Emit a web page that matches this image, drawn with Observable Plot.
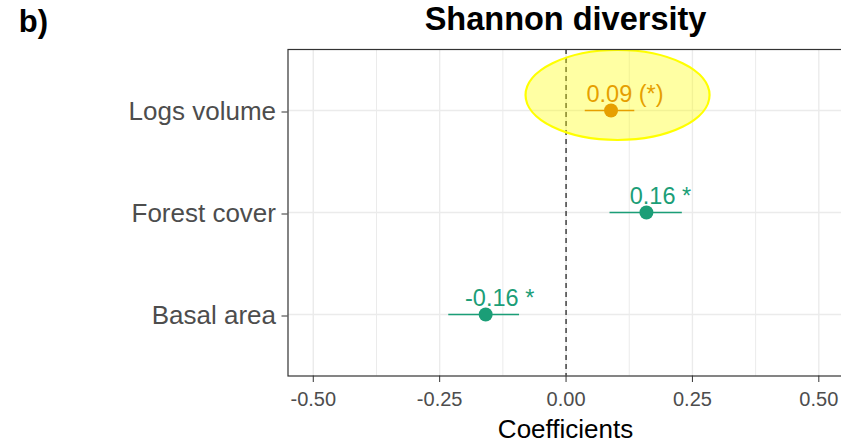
<!DOCTYPE html>
<html><head><meta charset="utf-8">
<script src="https://cdn.jsdelivr.net/npm/d3@7"></script>
<script src="https://cdn.jsdelivr.net/npm/@observablehq/plot@0.6"></script>
<style>html,body{margin:0;padding:0;background:#fff;overflow:hidden}</style>
</head><body><div id="chart"></div>
<script>
const terms = ["Logs volume", "Forest cover", "Basal area"];
const estimates = [0.089, 0.159, -0.159];
const lowers = [0.038, 0.087, -0.232];
const uppers = [0.136, 0.230, -0.092];
const labels = ["0.09 (*)", "0.16 *", "-0.16 *"];
const significance = ["marginal", "significant", "significant"];
const xTicks = [-0.5, -0.25, 0, 0.25, 0.5];
const xMinorTicks = [-0.375, -0.125, 0.125, 0.375];
const title = "Shannon diversity";
const panelTag = "b)";
const xLabel = "Coefficients";
const highlightTerm = "Logs volume";

const data = terms.map((term, i) => ({
  term, estimate: estimates[i], lower: lowers[i], upper: uppers[i],
  label: labels[i], sig: significance[i]
}));

function highlight(...args) {
  const scales = args.find(a => a && typeof a.x === "function" && typeof a.y === "function");
  const d = data.find(r => r.term === highlightTerm);
  const ns = "http://www.w3.org/2000/svg";
  const g = document.createElementNS(ns, "g");
  const e = document.createElementNS(ns, "ellipse");
  e.setAttribute("cx", scales.x(d.estimate) + 7);
  e.setAttribute("cy", scales.y(d.term) - 15);
  e.setAttribute("rx", 92);
  e.setAttribute("ry", 45);
  e.setAttribute("fill", "#ffff00");
  e.setAttribute("fill-opacity", 0.36);
  e.setAttribute("stroke", "#ffff00");
  e.setAttribute("stroke-width", 2.2);
  g.appendChild(e);
  return g;
}

const font = "'Liberation Sans', Arial, sans-serif";
const chart = Plot.plot({
  width: 841, height: 442,
  marginLeft: 287.5, marginRight: -2.6, marginTop: 49, marginBottom: 66.5,
  style: {fontFamily: font, background: "#fff"},
  x: {domain: [-0.55, 0.55]},
  y: {type: "point", domain: terms, padding: 0.6},
  color: {domain: ["marginal", "significant"], range: ["#E69F00", "#1B9E77"]},
  marks: [
    Plot.gridX(xMinorTicks, {stroke: "#ebebeb", strokeOpacity: 1, strokeWidth: 1}),
    Plot.gridX(xTicks, {stroke: "#ebebeb", strokeOpacity: 1, strokeWidth: 1.4}),
    Plot.gridY(terms, {stroke: "#ebebeb", strokeOpacity: 1, strokeWidth: 1.4}),
    Plot.ruleX([0], {stroke: "#000", strokeDasharray: "5,4", strokeWidth: 1.1}),
    highlight,
    Plot.ruleY(data, {y: "term", x1: "lower", x2: "upper", stroke: "sig", strokeWidth: 1.5}),
    Plot.dot(data, {x: "estimate", y: "term", fill: "sig", r: 7}),
    Plot.text(data, {x: "estimate", y: "term", text: "label", fill: "sig", fontSize: 23.5, dx: 14, dy: -9, lineAnchor: "bottom"}),
    Plot.frame({stroke: "#333", strokeWidth: 1.2}),
    Plot.axisX(xTicks, {tickSize: 6.5, tickPadding: 9.5, fontSize: 20, fill: "#4d4d4d", stroke: "#333", tickFormat: d => d.toFixed(2), label: null}),
    Plot.axisY(terms, {tickSize: 6, tickPadding: 6, fontSize: 26, dy: 1.5, fill: "#4d4d4d", stroke: "#333", label: null}),
    Plot.text([title], {frameAnchor: "top", dx: -0.5, dy: -19.7, lineAnchor: "bottom", fontSize: 32.5, fontWeight: "bold", fill: "#000"}),
    Plot.text([panelTag], {frameAnchor: "top-left", dx: -269.2, dy: -17.3, textAnchor: "start", lineAnchor: "bottom", fontSize: 31, fontWeight: "bold", fill: "#000"}),
    Plot.text([xLabel], {frameAnchor: "bottom", dx: -0.5, dy: 61.5, lineAnchor: "bottom", fontSize: 26, fill: "#000"})
  ]
});
document.getElementById("chart").appendChild(chart);
</script>
</body></html>
